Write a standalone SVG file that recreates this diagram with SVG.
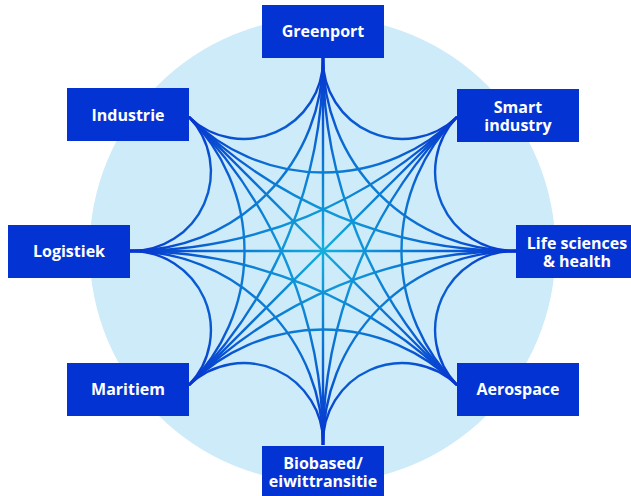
<svg xmlns="http://www.w3.org/2000/svg" width="631" height="496" viewBox="0 0 631 496">
  <defs>
    <radialGradient id="lineGrad" gradientUnits="userSpaceOnUse" cx="323" cy="251" r="193">
      <stop offset="0" stop-color="#14aedd"/>
      <stop offset="0.45" stop-color="#0b78d4"/>
      <stop offset="1" stop-color="#0631cf"/>
    </radialGradient>
  </defs>
  <style>
    .conn { fill: none; stroke: url(#lineGrad); stroke-width: 2.4; }
    .box { fill: #0433d4; }
    .lbl { fill: #ffffff; font-family: "Open Sans", "Noto Sans", sans-serif; font-weight: 700; font-size: 16px; text-anchor: middle; }
  </style>
  <rect width="631" height="496" fill="#ffffff"/>
  <circle id="backdrop" cx="322.5" cy="250" r="233" fill="#cdebf8"/>

  <g id="connectors">
    <!-- adjacent (45 deg) -->
    <path class="conn" d="M323,58 A79.3,79.3 0 0 0 457,117"/>
    <path class="conn" d="M457,117 A79.3,79.3 0 0 0 516,251"/>
    <path class="conn" d="M516,251 A79.3,79.3 0 0 0 457,385"/>
    <path class="conn" d="M457,385 A79.3,79.3 0 0 0 323,445"/>
    <path class="conn" d="M323,445 A79.3,79.3 0 0 0 189,385"/>
    <path class="conn" d="M189,385 A79.3,79.3 0 0 0 130,251"/>
    <path class="conn" d="M130,251 A79.3,79.3 0 0 0 189,117"/>
    <path class="conn" d="M189,117 A79.3,79.3 0 0 0 323,58"/>
    <!-- 90 deg -->
    <path class="conn" d="M323,58 A193,193 0 0 0 516,251"/>
    <path class="conn" d="M457,117 A189.5,189.5 0 0 0 457,385"/>
    <path class="conn" d="M516,251 A193.5,193.5 0 0 0 323,445"/>
    <path class="conn" d="M457,385 A189.5,189.5 0 0 0 189,385"/>
    <path class="conn" d="M323,445 A193.5,193.5 0 0 0 130,251"/>
    <path class="conn" d="M189,385 A189.5,189.5 0 0 0 189,117"/>
    <path class="conn" d="M130,251 A193,193 0 0 0 323,58"/>
    <path class="conn" d="M189,117 A189.5,189.5 0 0 0 457,117"/>
    <!-- 135 deg -->
    <path class="conn" d="M323,58 A461.7,461.7 0 0 0 457,385"/>
    <path class="conn" d="M457,117 A462.9,462.9 0 0 0 323,445"/>
    <path class="conn" d="M516,251 A461.7,461.7 0 0 0 189,385"/>
    <path class="conn" d="M457,385 A461.7,461.7 0 0 0 130,251"/>
    <path class="conn" d="M323,445 A462.9,462.9 0 0 0 189,117"/>
    <path class="conn" d="M189,385 A461.7,461.7 0 0 0 323,58"/>
    <path class="conn" d="M130,251 A461.7,461.7 0 0 0 457,117"/>
    <path class="conn" d="M189,117 A461.7,461.7 0 0 0 516,251"/>
    <!-- diameters -->
    <path class="conn" d="M323,58 L323,445"/>
    <path class="conn" d="M457,117 L189,385"/>
    <path class="conn" d="M516,251 L130,251"/>
    <path class="conn" d="M457,385 L189,117"/>
  </g>

  <g id="node-greenport">
    <rect class="box" x="262" y="5" width="122" height="53"/>
    <text class="lbl" x="323" y="37">Greenport</text>
  </g>
  <g id="node-smart-industry">
    <rect class="box" x="457" y="89" width="122" height="53"/>
    <text class="lbl" x="518" y="113">Smart</text>
    <text class="lbl" x="518" y="131">industry</text>
  </g>
  <g id="node-life-sciences">
    <rect class="box" x="516" y="225" width="122" height="53"/>
    <text class="lbl" x="577" y="249">Life sciences</text>
    <text class="lbl" x="577" y="267">&amp; health</text>
  </g>
  <g id="node-aerospace">
    <rect class="box" x="457" y="363" width="122" height="53"/>
    <text class="lbl" x="518" y="395">Aerospace</text>
  </g>
  <g id="node-biobased">
    <rect class="box" x="262" y="446" width="122" height="53"/>
    <text class="lbl" x="323" y="469">Biobased/</text>
    <text class="lbl" x="323" y="487">eiwittransitie</text>
  </g>
  <g id="node-maritiem">
    <rect class="box" x="67" y="363" width="122" height="53"/>
    <text class="lbl" x="128" y="395">Maritiem</text>
  </g>
  <g id="node-logistiek">
    <rect class="box" x="8" y="225" width="122" height="53"/>
    <text class="lbl" x="69" y="257">Logistiek</text>
  </g>
  <g id="node-industrie">
    <rect class="box" x="67" y="88" width="122" height="53"/>
    <text class="lbl" x="128" y="121">Industrie</text>
  </g>
</svg>
